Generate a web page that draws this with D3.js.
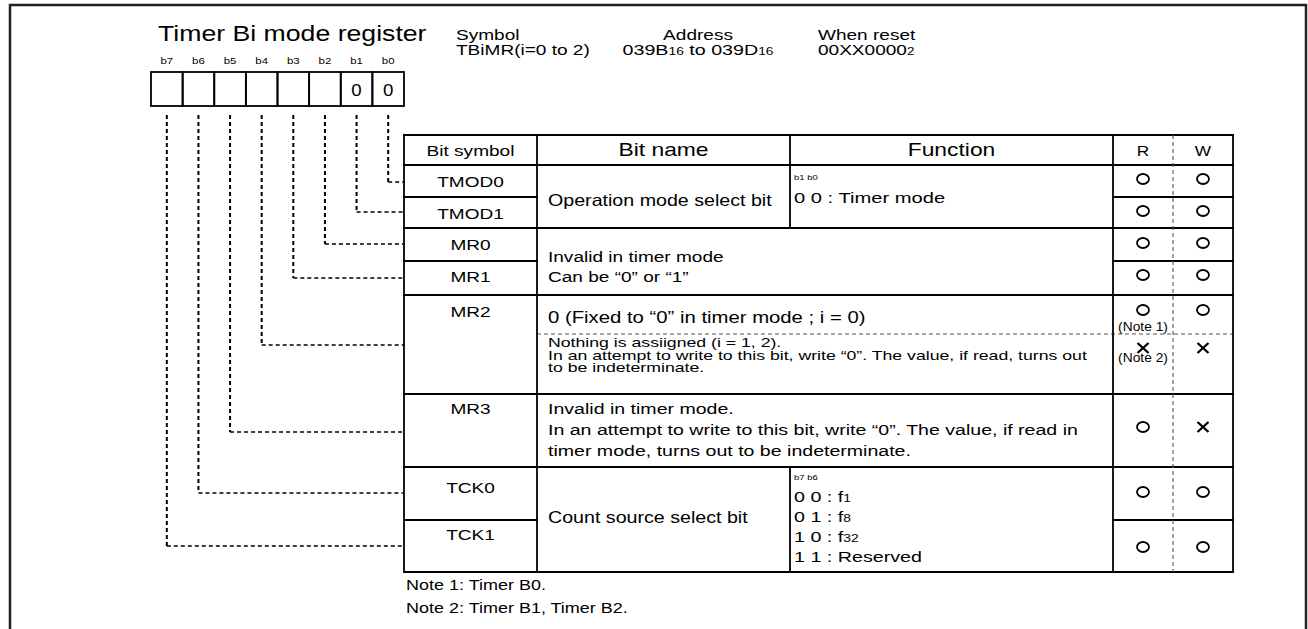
<!DOCTYPE html>
<html>
<head>
<meta charset="utf-8">
<script src="https://cdn.jsdelivr.net/npm/d3@7"></script>
<style>
  html, body { margin: 0; padding: 0; background: #fff; }
  text { font-family: "Liberation Sans", Arial, Helvetica, sans-serif; }
</style>
</head>
<body>
<svg id="chart" width="1308" height="629"></svg>
<script>
// ---------------- data ----------------
const title = "Timer Bi mode register";
const bitLabels = ["b7", "b6", "b5", "b4", "b3", "b2", "b1", "b0"];
const resetValues = ["", "", "", "", "", "", "0", "0"];
const symbolLabel = "Symbol";
const symbolValue = "TBiMR(i=0 to 2)";
const addressLabel = "Address";
const addressValue = [["039B", false], ["16", true], [" to 039D", false], ["16", true]];
const resetLabel = "When reset";
const resetValue = [["00XX0000", false], ["2", true]];
const headers = ["Bit symbol", "Bit name", "Function", "R", "W"];
const bitSymbols = ["TMOD0", "TMOD1", "MR0", "MR1", "MR2", "MR3", "TCK0", "TCK1"];
// which register bit each symbol belongs to
const symbolBits = ["b0", "b1", "b2", "b3", "b4", "b5", "b6", "b7"];
const opModeName = "Operation mode select bit";
const opModeHeader = "b1 b0";
const opModeFunction = "0 0 : Timer mode";
const mrInvalid = ["Invalid in timer mode", "Can be \u201c0\u201d or \u201c1\u201d"];
const mr2Fixed = "0 (Fixed to \u201c0\u201d in timer mode ; i = 0)";
const mr2Nothing = ["Nothing is assiigned (i = 1, 2).",
  "In an attempt to write to this bit, write \u201c0\u201d. The value, if read, turns out",
  "to be indeterminate."];
const mr3Text = ["Invalid in timer mode.",
  "In an attempt to write to this bit, write \u201c0\u201d. The value, if read in",
  "timer mode, turns out to be indeterminate."];
const countName = "Count source select bit";
const countHeader = "b7 b6";
const countCodes = ["0 0 : ", "0 1 : ", "1 0 : ", "1 1 : "];
const countValues = [[["f", false], ["1", true]], [["f", false], ["8", true]], [["f", false], ["32", true]], [["Reserved", false]]];
// read / write access marks per symbol (MR2 has two cases: i = 0 and i = 1, 2)
const readAccess = [["O"], ["O"], ["O"], ["O"], ["O", "X"], ["O"], ["O"], ["O"]];
const writeAccess = [["O"], ["O"], ["O"], ["O"], ["O", "X"], ["X"], ["O"], ["O"]];
const accessNotes = ["(Note 1)", "(Note 2)"];
const notes = ["Note 1: Timer B0.", "Note 2: Timer B1, Timer B2."];

// ---------------- layout ----------------
const SX = 1.27;
const INK = "#000";
const svg = d3.select("#chart");
svg.append("rect").attr("width", 1308).attr("height", 629).attr("fill", "#fff");

function addText(sel, x, y, parts, o = {}) {
  const size = o.size || 15;
  const t = sel.append("text")
    .attr("transform", `translate(${x},${y}) scale(${o.sx || SX},1)`)
    .attr("font-size", size)
    .attr("text-anchor", o.anchor || "start")
    .attr("fill", INK);
  if (typeof parts === "string") t.text(parts);
  else parts.forEach(([s, sub]) => {
    const ts = t.append("tspan").text(s);
    if (sub) ts.attr("font-size", size * 0.7);
  });
  return t;
}
function line(sel, x1, y1, x2, y2, o = {}) {
  return sel.append("line").attr("x1", x1).attr("y1", y1).attr("x2", x2).attr("y2", y2)
    .attr("stroke", o.color || INK).attr("stroke-width", o.w || 1.8)
    .attr("stroke-dasharray", o.dash || null);
}

// outer frame
svg.append("path").attr("d", "M10,640 V5 H1306 V640").attr("fill", "none")
  .attr("stroke", "#222").attr("stroke-width", 2.5);

// title
addText(svg, 158, 41, title, { size: 21.5, sx: 1.24 });

// register boxes
const xBit = d3.scaleBand().domain(bitLabels).range([151, 404]).padding(0);
const boxTop = 72, boxBottom = 106;
const reg = svg.append("g");
reg.selectAll("rect.bit").data(bitLabels).join("rect")
  .attr("class", "bit")
  .attr("x", d => xBit(d)).attr("y", boxTop)
  .attr("width", xBit.bandwidth()).attr("height", boxBottom - boxTop)
  .attr("fill", "none").attr("stroke", INK).attr("stroke-width", 1.8);
bitLabels.forEach((b, i) => {
  addText(reg, xBit(b) + xBit.bandwidth() / 2, 64, b, { size: 9, anchor: "middle" });
  if (resetValues[i]) addText(reg, xBit(b) + xBit.bandwidth() / 2, 96, resetValues[i], { size: 17, anchor: "middle", sx: 1.1 });
});

// symbol / address / reset block
addText(svg, 456, 40, symbolLabel, { size: 15 });
addText(svg, 456, 55, symbolValue, { size: 15 });
addText(svg, 698, 40, addressLabel, { size: 15, anchor: "middle" });
addText(svg, 698, 55, addressValue, { size: 15.5, anchor: "middle" });
addText(svg, 818, 40, resetLabel, { size: 15 });
addText(svg, 818, 55, resetValue, { size: 15 });

// table geometry
const colX = [404, 537, 790, 1113, 1173, 1233];
const yTop = 135, yHead = 165, yBottom = 572;
const tbl = svg.append("g");

// horizontal grid lines
[[yTop, colX[0], colX[5]], [yHead, colX[0], colX[5]], [228, colX[0], colX[5]], [295, colX[0], colX[5]],
 [394, colX[0], colX[5]], [467, colX[0], colX[5]], [yBottom, colX[0], colX[5]],
 [197, colX[0], colX[1]], [197, colX[3], colX[5]], [261, colX[0], colX[1]], [261, colX[3], colX[5]],
 [520, colX[0], colX[1]], [520, colX[3], colX[5]]]
  .forEach(([y, a, b]) => line(tbl, a - 0.9, y, b + 0.9, y));
line(tbl, colX[1], 334, colX[5], 334, { color: "#555", w: 1.1, dash: "4,3" });
// vertical grid lines
[colX[0], colX[1], colX[3], colX[5]].forEach(x => line(tbl, x, yTop, x, yBottom));
line(tbl, colX[2], yTop, colX[2], 228);
line(tbl, colX[2], 467, colX[2], yBottom);
line(tbl, colX[4], yTop, colX[4], yBottom, { color: "#555", w: 1.1, dash: "4,3" });

// header
const headX = [(colX[0] + colX[1]) / 2, (colX[1] + colX[2]) / 2, (colX[2] + colX[3]) / 2, (colX[3] + colX[4]) / 2, (colX[4] + colX[5]) / 2];
const headSize = [15, 18, 18, 15, 15];
headers.forEach((h, i) => addText(tbl, headX[i], 156, h, { size: headSize[i], anchor: "middle", sx: i > 2 ? 1.15 : SX }));

// bit symbols
const symBase = [187, 219, 250, 282, 317, 414, 493, 540];
bitSymbols.forEach((s, i) => addText(tbl, headX[0], symBase[i], s, { size: 15, anchor: "middle" }));

// bit names / functions
const tx = 548, fx = 794;
addText(tbl, tx, 206, opModeName, { size: 16.5, sx: 1.19 });
addText(tbl, fx, 180, opModeHeader, { size: 7.5 });
addText(tbl, fx, 203, opModeFunction, { size: 15.5, sx: 1.3 });
mrInvalid.forEach((s, i) => addText(tbl, tx, 262 + i * 20, s, { size: 15 }));
addText(tbl, tx, 323, mr2Fixed, { size: 16 });
mr2Nothing.forEach((s, i) => addText(tbl, tx, 347 + i * 12.5, s, { size: 13.5, sx: 1.31 }));
mr3Text.forEach((s, i) => addText(tbl, tx, 414 + i * 21, s, { size: 15.4 }));
addText(tbl, tx, 523, countName, { size: 16.5, sx: 1.19 });
addText(tbl, fx, 480, countHeader, { size: 7.5 });
countCodes.forEach((c, i) => addText(tbl, fx, 502 + i * 20, [[c, false]].concat(countValues[i]), { size: 15.5 }));

// access marks
const markY = [[179], [211], [243], [275], [310, 348], [427], [492], [547]];
function mark(sel, x, y, kind) {
  if (kind === "O") {
    sel.append("ellipse").attr("cx", x).attr("cy", y).attr("rx", 6).attr("ry", 5)
      .attr("fill", "none").attr("stroke", INK).attr("stroke-width", 1.8);
  } else {
    line(sel, x - 5.5, y - 5, x + 5.5, y + 5, { w: 2.3 });
    line(sel, x - 5.5, y + 5, x + 5.5, y - 5, { w: 2.3 });
  }
}
readAccess.forEach((arr, i) => arr.forEach((k, j) => mark(tbl, headX[3], markY[i][j], k)));
writeAccess.forEach((arr, i) => arr.forEach((k, j) => mark(tbl, headX[4], markY[i][j], k)));
addText(tbl, headX[3], 331, accessNotes[0], { size: 12, anchor: "middle", sx: 1.15 });
addText(tbl, headX[3], 362, accessNotes[1], { size: 12, anchor: "middle", sx: 1.15 });

// dashed connectors from bits to table rows
const connY = [182, 212, 244, 278, 345, 432, 493, 546];
const conn = svg.append("g");
symbolBits.forEach((b, i) => {
  const x = xBit(b) + xBit.bandwidth() / 2;
  line(conn, x, 115, x, connY[i], { w: 2, dash: "4,3" });
  line(conn, x, connY[i], colX[0], connY[i], { w: 1.4, dash: "4,3" });
});

// notes
notes.forEach((n, i) => addText(svg, 406, 590 + i * 23, n, { size: 15, sx: 1.2 }));
</script>
</body>
</html>
